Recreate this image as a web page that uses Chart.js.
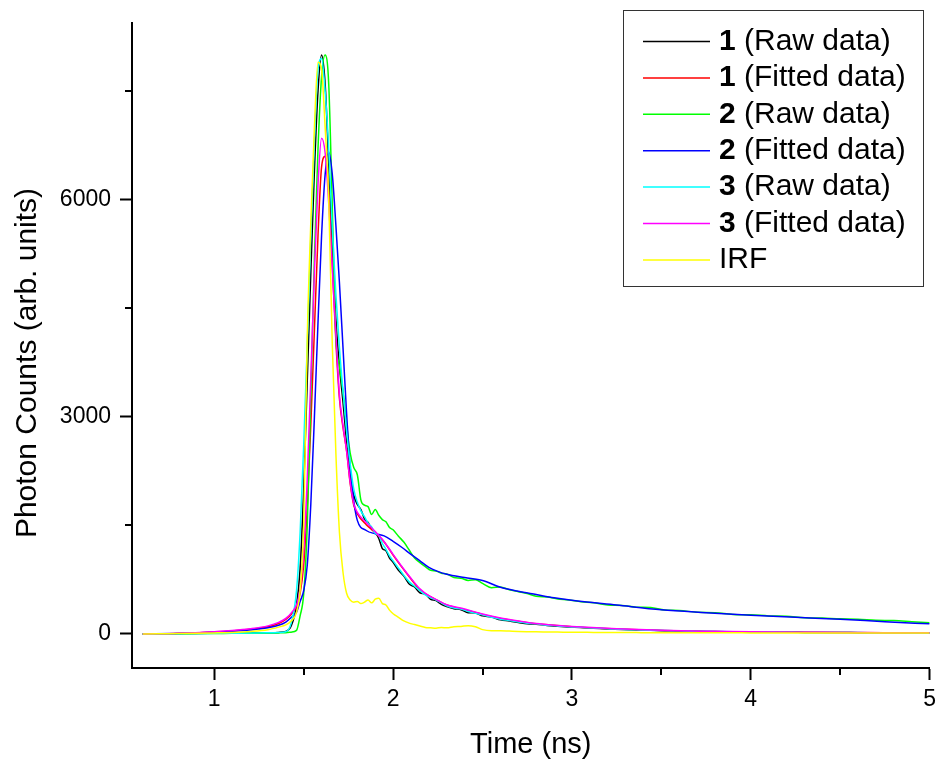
<!DOCTYPE html>
<html>
<head>
<meta charset="utf-8">
<script src="https://cdn.jsdelivr.net/npm/chart.js@4.4.0/dist/chart.umd.min.js"></script>
<style>
  html, body { margin: 0; padding: 0; background: #fff; }
  canvas { display: block; }
</style>
</head>
<body>
<canvas id="chart" width="942" height="764"></canvas>
<script>
// time (ns) of the measured decays and the IRF
const rawTime = [
  0.60, 0.70, 0.80, 0.90, 1.00, 1.10, 1.20, 1.30, 1.36, 1.40,
  1.43, 1.46, 1.48, 1.50, 1.52, 1.54, 1.56, 1.58, 1.60, 1.62,
  1.64, 1.66, 1.68, 1.70, 1.72, 1.74, 1.76, 1.78, 1.80, 1.82,
  1.84, 1.86, 1.88, 1.90, 1.92, 1.94, 1.96, 1.98, 2.00, 2.03,
  2.06, 2.09, 2.12, 2.15, 2.18, 2.21, 2.24, 2.27, 2.30, 2.34,
  2.38, 2.42, 2.46, 2.50, 2.55, 2.60, 2.65, 2.70, 2.75, 2.80,
  2.86, 2.92, 2.98, 3.05, 3.12, 3.20, 3.28, 3.36, 3.44, 3.52,
  3.60, 3.70, 3.80, 3.90, 4.00, 4.10, 4.20, 4.30, 4.40, 4.50,
  4.60, 4.70, 4.80, 4.90, 5.00
];

const raw1 = [
  0, 2, 5, 8, 10, 12, 15, 18, 22, 35,
  110, 400, 900, 2000, 3500, 5000, 6400, 7500, 8000, 7600,
  6500, 5350, 4350, 3700, 3200, 2650, 2200, 1920, 1790, 1720,
  1590, 1540, 1450, 1400, 1320, 1180, 1150, 1050, 990, 880,
  800, 690, 650, 570, 550, 480, 460, 410, 380, 350,
  335, 295, 290, 250, 235, 195, 180, 160, 140, 135,
  118, 108, 98, 88, 80, 70, 62, 56, 50, 46,
  40, 38, 33, 31, 27, 25, 24, 22, 20, 20,
  18, 17, 16, 15, 15
];

const raw2 = [
  0, 1, 3, 5, 7, 9, 11, 13, 15, 18,
  25, 50, 250, 550, 1500, 3300, 5200, 6700, 7700, 8000,
  7600, 5900, 4100, 3700, 3350, 2900, 2500, 2300, 2200, 1850,
  1780, 1760, 1650, 1720, 1640, 1580, 1550, 1470, 1440, 1350,
  1270, 1160, 1050, 985, 930, 880, 870, 840, 830, 780,
  770, 740, 750, 700, 640, 650, 610, 585, 560, 520,
  510, 485, 470, 445, 430, 400, 395, 370, 365, 330,
  325, 300, 295, 270, 265, 250, 245, 225, 220, 210,
  205, 190, 185, 170, 155
];

const raw3 = [
  0, 2, 4, 7, 9, 11, 13, 16, 20, 30,
  150, 600, 1400, 2600, 4000, 5500, 6800, 7800, 7950, 7500,
  6700, 5600, 4700, 3950, 3350, 2800, 2350, 2000, 1820, 1700,
  1620, 1530, 1480, 1390, 1360, 1250, 1170, 1080, 1010, 910,
  810, 720, 660, 600, 540, 500, 470, 430, 390, 360,
  345, 310, 285, 265, 230, 205, 185, 165, 150, 140,
  122, 112, 100, 92, 82, 74, 64, 58, 52, 47,
  43, 38, 35, 31, 28, 26, 24, 22, 21, 20,
  19, 17, 16, 15, 15
];

const irf = [
  0, 3, 6, 10, 15, 22, 35, 60, 95, 125,
  180, 300, 600, 1500, 4100, 5700, 7000, 7900, 7800, 7000,
  6000, 4000, 2500, 1400, 850, 563, 470, 440, 450, 420,
  440, 470, 430, 480, 495, 420, 400, 330, 280, 230,
  180, 150, 130, 110, 90, 85, 80, 90, 85, 100,
  105, 115, 100, 60, 45, 45, 40, 35, 32, 30,
  28, 26, 25, 23, 22, 20, 20, 19, 18, 18,
  17, 17, 16, 16, 15, 15, 15, 14, 14, 14,
  14, 13, 13, 13, 13
];

// time (ns) of the fitted curves
const fitTime = [
  0.60, 0.80, 1.00, 1.10, 1.20, 1.30, 1.36, 1.40, 1.44, 1.46,
  1.48, 1.50, 1.52, 1.54, 1.56, 1.58, 1.60, 1.62, 1.64, 1.66,
  1.68, 1.70, 1.72, 1.74, 1.76, 1.78, 1.80, 1.85, 1.90, 1.95,
  2.00, 2.05, 2.10, 2.15, 2.20, 2.25, 2.30, 2.40, 2.50, 2.60,
  2.70, 2.80, 2.90, 3.00, 3.25, 3.50, 3.75, 4.00, 4.25, 4.50,
  4.75, 5.00
];

const fit1 = [
  0, 8, 28, 42, 65, 100, 145, 200, 300, 380,
  560, 950, 1750, 2900, 4200, 5500, 6450, 6600, 6100, 5100,
  4050, 3250, 2850, 2530, 2080, 1780, 1660, 1510, 1400, 1270,
  1090, 920, 760, 610, 525, 460, 400, 335, 270, 215,
  175, 140, 120, 100, 70, 48, 36, 28, 23, 20,
  17, 15
];

const fit2 = [
  0, 8, 25, 38, 55, 85, 120, 165, 250, 300,
  450, 600, 950, 1800, 3000, 4300, 5500, 6350, 6660, 6350,
  5650, 4850, 3950, 3050, 2300, 1840, 1570, 1430, 1385, 1355,
  1280, 1195, 1100, 1010, 920, 865, 825, 780, 740, 645,
  590, 545, 500, 465, 400, 335, 295, 260, 230, 205,
  170, 140
];

const fit3 = [
  0, 10, 32, 48, 72, 112, 160, 215, 320, 400,
  620, 1150, 2150, 3550, 5000, 6200, 6850, 6650, 5950, 5050,
  4150, 3300, 2880, 2530, 2100, 1800, 1680, 1540, 1415, 1275,
  1100, 930, 770, 625, 530, 465, 405, 345, 275, 220,
  180, 145, 122, 105, 72, 50, 38, 30, 25, 22,
  18, 16
];

const seriesNumbers = ['1', '1', '2', '2', '3', '3', ''];
const seriesLabels = ['(Raw data)', '(Fitted data)', '(Raw data)', '(Fitted data)', '(Raw data)', '(Fitted data)', 'IRF'];
const seriesColors = ['#000000', '#ff0000', '#00ff00', '#0000ff', '#00ffff', '#ff00ff', '#ffff00'];

const xTickValues = [1, 2, 3, 4, 5];
const yTickValues = [0, 3000, 6000];
const xMinorTicks = [1.5, 2.5, 3.5, 4.5];
const yMinorTicks = [1500, 4500, 7500];

const FONT = "'Liberation Sans', Arial, Helvetica, sans-serif";

function toPoints(xs, ys) {
  return xs.map((x, i) => ({ x: x, y: ys[i] }));
}

const seriesData = [
  toPoints(rawTime, raw1),
  toPoints(fitTime, fit1),
  toPoints(rawTime, raw2),
  toPoints(fitTime, fit2),
  toPoints(rawTime, raw3),
  toPoints(fitTime, fit3),
  toPoints(rawTime, irf)
];

// minor ticks, y title and the boxed legend
const extras = {
  id: 'extras',
  afterDraw(chart) {
    const ctx = chart.ctx;
    const xs = chart.scales.x;
    const ys = chart.scales.y;
    const area = chart.chartArea;
    ctx.save();
    ctx.strokeStyle = '#000';
    ctx.lineWidth = 2;
    xMinorTicks.forEach(v => {
      const px = Math.round(xs.getPixelForValue(v));
      ctx.beginPath();
      ctx.moveTo(px, area.bottom);
      ctx.lineTo(px, area.bottom + 7);
      ctx.stroke();
    });
    yMinorTicks.forEach(v => {
      const py = Math.round(ys.getPixelForValue(v));
      ctx.beginPath();
      ctx.moveTo(area.left - 7, py);
      ctx.lineTo(area.left, py);
      ctx.stroke();
    });

    // y axis title
    ctx.fillStyle = '#000';
    ctx.font = '30px ' + FONT;
    ctx.textAlign = 'center';
    ctx.textBaseline = 'alphabetic';
    ctx.translate(36, 363);
    ctx.rotate(-Math.PI / 2);
    ctx.fillText('Photon Counts (arb. units)', 0, 0);
    ctx.setTransform(1, 0, 0, 1, 0, 0);

    // legend
    ctx.strokeStyle = '#333';
    ctx.lineWidth = 1;
    ctx.strokeRect(623.5, 10.5, 300, 276);
    ctx.textAlign = 'left';
    ctx.textBaseline = 'middle';
    chart.data.datasets.forEach((ds, i) => {
      const y = 41.5 + i * 36.4;
      ctx.strokeStyle = ds.borderColor;
      ctx.lineWidth = 1.5;
      ctx.beginPath();
      ctx.moveTo(643, y);
      ctx.lineTo(710, y);
      ctx.stroke();
      let x = 719;
      ctx.fillStyle = '#000';
      if (seriesNumbers[i]) {
        ctx.font = 'bold 30px ' + FONT;
        ctx.fillText(seriesNumbers[i], x, y);
        x += ctx.measureText(seriesNumbers[i]).width;
        ctx.font = '30px ' + FONT;
        x += ctx.measureText(' ').width;
      }
      ctx.font = '30px ' + FONT;
      ctx.fillText(seriesLabels[i], x, y);
    });
    ctx.restore();
  }
};

const ctx = document.getElementById('chart').getContext('2d');

new Chart(ctx, {
  type: 'line',
  data: {
    datasets: seriesData.map((pts, i) => ({
      label: seriesNumbers[i] ? seriesNumbers[i] + ' ' + seriesLabels[i] : seriesLabels[i],
      data: pts,
      borderColor: seriesColors[i],
      backgroundColor: seriesColors[i],
      borderWidth: 1.5,
      pointRadius: 0,
      fill: false,
      cubicInterpolationMode: 'monotone',
      order: seriesData.length - i
    }))
  },
  options: {
    responsive: false,
    devicePixelRatio: 1,
    animation: false,
    layout: { padding: { top: 19, right: 11, left: 0, bottom: 0 } },
    plugins: {
      legend: { display: false },
      tooltip: { enabled: false }
    },
    scales: {
      x: {
        type: 'linear',
        min: 0.54,
        max: 5.0,
        afterFit(scale) { scale.height = 96; },
        afterBuildTicks(scale) { scale.ticks = xTickValues.map(v => ({ value: v })); },
        border: { display: true, color: '#000', width: 2 },
        grid: { drawOnChartArea: false, drawTicks: true, tickLength: 12, tickColor: '#000', tickWidth: 2 },
        ticks: {
          color: '#000',
          padding: 6,
          font: { family: FONT, size: 23 },
          maxRotation: 0,
          callback: v => String(v)
        },
        title: {
          display: true,
          text: 'Time (ns)',
          color: '#000',
          font: { family: FONT, size: 29 },
          padding: { top: 0, bottom: 2 }
        }
      },
      y: {
        type: 'linear',
        min: -470,
        max: 8445,
        afterFit(scale) { scale.width = 132; },
        afterBuildTicks(scale) { scale.ticks = yTickValues.map(v => ({ value: v })); },
        border: { display: true, color: '#000', width: 2 },
        grid: { drawOnChartArea: false, drawTicks: true, tickLength: 12, tickColor: '#000', tickWidth: 2 },
        ticks: {
          color: '#000',
          padding: 9,
          font: { family: FONT, size: 23 },
          callback: v => String(v)
        }
      }
    }
  },
  plugins: [extras]
});
</script>
</body>
</html>
